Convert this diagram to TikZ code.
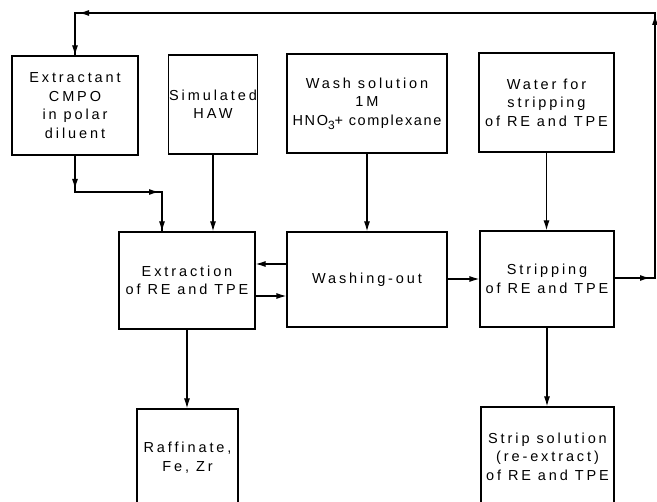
\documentclass[tikz,border=0pt]{standalone}
\usepackage{fontspec}
\setmainfont{Liberation Sans}[LetterSpace=20]
\usetikzlibrary{arrows.meta}
\begin{document}
\begin{tikzpicture}[x=1pt,y=-1pt,line width=1.2pt,
  box/.style={draw, rectangle, inner sep=0.5pt, align=center,
    font=\fontsize{14.5}{18.5}\selectfont},
  arr/.style={-{Latex[length=10pt,width=6pt]}},
  line/.style={line join=miter}]
\useasboundingbox (0,0) rectangle (657,502);
\begin{scope}
\clip (0,0) rectangle (657,502);
% boxes
\node[box, minimum width=126pt, minimum height=99pt] (b1) at (75,105.5) {Extractant\\CMPO\\in polar\\diluent};
\node[box, minimum width=86pt, minimum height=99pt] (b2) at (213,104.5) {Simulated\\HAW};
\node[box, minimum width=160pt, minimum height=99pt] (b3) at (367,103.5) {Wash solution\\1M\\{\addfontfeature{LetterSpace=11}HNO\raisebox{-4pt}{\fontsize{12}{12}\selectfont 3}+ complexane}};
\node[box, minimum width=135pt, minimum height=99pt] (b4) at (546.5,102.5) {Water for\\stripping\\of RE and TPE};
\node[box, minimum width=136pt, minimum height=97pt] (ex) at (187,280.5) {Extraction\\of RE and TPE};
\node[box, minimum width=160pt, minimum height=95pt] (wo) at (367,279.5) {Washing-out};
\node[box, minimum width=134pt, minimum height=96pt] (st) at (547,279) {Stripping\\of RE and TPE};
\node[box, minimum width=101pt, minimum height=97pt] (ra) at (187.5,457.5) {Raffinate,\\Fe, Zr};
\node[box, minimum width=133pt, minimum height=99pt] (ss) at (547.5,456.5) {Strip solution\\(re-extract)\\of RE and TPE};
% helper coordinates
\coordinate (c1) at (75,192);
\coordinate (c2) at (162,192);
\coordinate (yu) at (0,264);
\coordinate (yl) at (0,296);
\coordinate (ym) at (0,279);
\coordinate (ys) at (0,278);
\coordinate (r1) at (655,278);
\coordinate (r2) at (655,13);
\coordinate (r3) at (75,13);
% extractant to extraction
\draw[line] (b1.south) -- (c1) -- (c2) -- (c2 |- ex.north);
\draw[arr, shorten >=3pt] (b1.south) -- (c1);
\draw[arr, shorten >=3pt] (c1) -- (c2);
\draw[arr] (c2) -- (c2 |- ex.north);
% feeds
\draw[arr] (b2.south) -- (b2.south |- ex.north);
\draw[arr] (b3.south) -- (b3.south |- wo.north);
\draw[arr] (b4.south) -- (b4.south |- st.north);
% between extraction and washing
\draw[arr] (wo.west |- yu) -- (ex.east |- yu);
\draw[arr] (ex.east |- yl) -- (wo.west |- yl);
\draw[arr] (wo.east |- ym) -- (st.west |- ym);
% outputs
\draw[arr] (ex.south) -- (ex.south |- ra.north);
\draw[arr] (st.south) -- (st.south |- ss.north);
% recycle loop
\draw[line] (st.east |- ys) -- (r1) -- (r2) -- (r3) -- (b1.north);
\draw[arr, shorten >=5pt] (st.east |- ys) -- (r1);
\draw[arr, shorten >=2pt] (r1) -- (r2);
\draw[arr, shorten >=4pt] (r2) -- (r3);
\draw[arr] (r3) -- (b1.north);
\end{scope}
\end{tikzpicture}
\end{document}
